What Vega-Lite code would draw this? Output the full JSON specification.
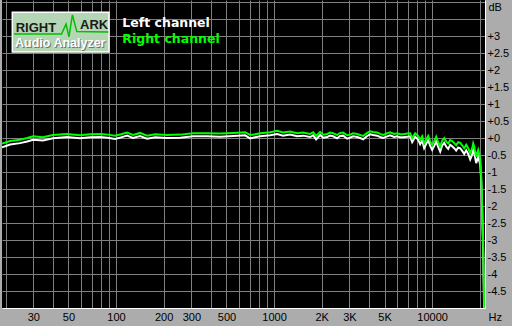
{
  "$schema": "https://vega.github.io/schema/vega-lite/v6.json",
  "width": 483,
  "height": 308,
  "autosize": {"type": "none"},
  "padding": {"left": 2, "top": 0, "right": 27, "bottom": 18},
  "background": "#acacac",
  "view": {"fill": "#000000", "stroke": null},
  "config": {"font": "Liberation Sans"},
  "datasets": {
    "curves": [
      {"f": 19, "R": -0.16, "L": -0.27},
      {"f": 21.4, "R": -0.09, "L": -0.19},
      {"f": 24.7, "R": -0.05, "L": -0.15},
      {"f": 27.4, "R": 0.0, "L": -0.1},
      {"f": 29.9, "R": 0.05, "L": -0.05},
      {"f": 34.5, "R": 0.02, "L": -0.07},
      {"f": 39.9, "R": 0.09, "L": -0.01},
      {"f": 49, "R": 0.12, "L": 0.03},
      {"f": 59.2, "R": 0.08, "L": -0.01},
      {"f": 68.5, "R": 0.11, "L": 0.02},
      {"f": 79.3, "R": 0.12, "L": 0.03},
      {"f": 89, "R": 0.1, "L": 0.01},
      {"f": 98.6, "R": 0.07, "L": -0.03},
      {"f": 107.6, "R": 0.11, "L": 0.02},
      {"f": 117.5, "R": 0.16, "L": 0.07},
      {"f": 128, "R": 0.09, "L": 0.0},
      {"f": 142, "R": 0.15, "L": 0.06},
      {"f": 157, "R": 0.07, "L": -0.02},
      {"f": 177, "R": 0.11, "L": 0.02},
      {"f": 210, "R": 0.09, "L": 0.0},
      {"f": 254, "R": 0.1, "L": 0.01},
      {"f": 307, "R": 0.14, "L": 0.05},
      {"f": 377, "R": 0.14, "L": 0.05},
      {"f": 456, "R": 0.13, "L": 0.04},
      {"f": 550, "R": 0.15, "L": 0.06},
      {"f": 656, "R": 0.17, "L": 0.08},
      {"f": 705, "R": 0.09, "L": -0.01},
      {"f": 759, "R": 0.11, "L": 0.02},
      {"f": 816, "R": 0.14, "L": 0.05},
      {"f": 944, "R": 0.17, "L": 0.08},
      {"f": 1046, "R": 0.21, "L": 0.12},
      {"f": 1140, "R": 0.16, "L": 0.07},
      {"f": 1263, "R": 0.19, "L": 0.1},
      {"f": 1399, "R": 0.14, "L": 0.05},
      {"f": 1527, "R": 0.16, "L": 0.07},
      {"f": 1691, "R": 0.12, "L": 0.03},
      {"f": 1767, "R": 0.17, "L": 0.08},
      {"f": 1845, "R": 0.06, "L": -0.04},
      {"f": 1956, "R": 0.18, "L": 0.09},
      {"f": 2044, "R": 0.1, "L": 0.01},
      {"f": 2166, "R": 0.12, "L": 0.03},
      {"f": 2263, "R": 0.16, "L": 0.07},
      {"f": 2364, "R": 0.14, "L": 0.05},
      {"f": 2506, "R": 0.09, "L": -0.01},
      {"f": 2618, "R": 0.15, "L": 0.06},
      {"f": 2735, "R": 0.16, "L": 0.07},
      {"f": 2900, "R": 0.08, "L": -0.02},
      {"f": 3029, "R": 0.1, "L": 0.01},
      {"f": 3164, "R": 0.14, "L": 0.05},
      {"f": 3354, "R": 0.12, "L": 0.03},
      {"f": 3504, "R": 0.09, "L": 0.0},
      {"f": 3661, "R": 0.06, "L": -0.04},
      {"f": 3880, "R": 0.15, "L": 0.06},
      {"f": 4055, "R": 0.2, "L": 0.11},
      {"f": 4235, "R": 0.18, "L": 0.09},
      {"f": 4490, "R": 0.16, "L": 0.07},
      {"f": 4691, "R": 0.12, "L": 0.03},
      {"f": 4899, "R": 0.09, "L": 0.0},
      {"f": 5193, "R": 0.14, "L": 0.05},
      {"f": 5425, "R": 0.17, "L": 0.08},
      {"f": 5751, "R": 0.12, "L": 0.03},
      {"f": 6008, "R": 0.14, "L": 0.05},
      {"f": 6278, "R": 0.11, "L": 0.02},
      {"f": 6557, "R": 0.11, "L": 0.02},
      {"f": 6952, "R": 0.13, "L": 0.04},
      {"f": 7262, "R": 0.14, "L": 0.05},
      {"f": 7476, "R": 0.0, "L": -0.12},
      {"f": 7811, "R": 0.14, "L": 0.04},
      {"f": 8160, "R": 0.06, "L": -0.05},
      {"f": 8401, "R": -0.05, "L": -0.18},
      {"f": 8647, "R": 0.05, "L": -0.07},
      {"f": 8905, "R": -0.16, "L": -0.3},
      {"f": 9168, "R": -0.05, "L": -0.18},
      {"f": 9441, "R": 0.06, "L": -0.06},
      {"f": 9720, "R": -0.1, "L": -0.23},
      {"f": 10005, "R": -0.21, "L": -0.35},
      {"f": 10304, "R": -0.1, "L": -0.24},
      {"f": 10607, "R": 0.04, "L": -0.1},
      {"f": 10921, "R": -0.12, "L": -0.26},
      {"f": 11244, "R": -0.25, "L": -0.4},
      {"f": 11578, "R": -0.08, "L": -0.22},
      {"f": 11922, "R": 0.0, "L": -0.14},
      {"f": 12274, "R": -0.1, "L": -0.25},
      {"f": 12633, "R": -0.16, "L": -0.32},
      {"f": 13010, "R": -0.06, "L": -0.2},
      {"f": 13391, "R": -0.09, "L": -0.24},
      {"f": 13790, "R": -0.15, "L": -0.3},
      {"f": 14193, "R": -0.21, "L": -0.37},
      {"f": 14617, "R": -0.12, "L": -0.28},
      {"f": 15048, "R": -0.14, "L": -0.3},
      {"f": 15496, "R": -0.22, "L": -0.38},
      {"f": 15954, "R": -0.3, "L": -0.47},
      {"f": 16426, "R": -0.2, "L": -0.36},
      {"f": 16910, "R": -0.3, "L": -0.47},
      {"f": 17408, "R": -0.45, "L": -0.63},
      {"f": 17925, "R": -0.3, "L": -0.48},
      {"f": 18187, "R": -0.16, "L": -0.34},
      {"f": 18453, "R": -0.25, "L": -0.43},
      {"f": 19000, "R": -0.55, "L": -0.74},
      {"f": 19562, "R": -0.35, "L": -0.55},
      {"f": 20140, "R": -0.6, "L": -0.78},
      {"f": 20436, "R": -1.1, "L": -1.25},
      {"f": 20737, "R": -2.0, "L": -2.2},
      {"f": 21041, "R": -3.2, "L": -3.4},
      {"f": 21348, "R": -5.0, "L": -5.2},
      {"f": 21500, "R": -6.0, "L": -6.2}
    ],
    "legendText": [
      {"f": 109.7, "v": 3.256, "label": "Left channel"},
      {"f": 109.7, "v": 2.803, "label": "Right channel"}
    ],
    "logoBox": [
      {"f": 22.08, "f2": 90.3, "v": 3.697, "v2": 2.529}
    ],
    "logoLine": [
      {"i": 1, "f": 22.6, "v": 3.06},
      {"i": 2, "f": 45.2, "v": 3.06},
      {"i": 3, "f": 48.3, "v": 3.35},
      {"i": 4, "f": 50.4, "v": 2.98},
      {"i": 5, "f": 53.0, "v": 3.62},
      {"i": 6, "f": 56.5, "v": 3.13},
      {"i": 7, "f": 89.5, "v": 3.12}
    ],
    "logoDark": [
      {"f": 23.2, "v": 3.126, "label": "RIGHT"},
      {"f": 59.2, "v": 3.197, "label": "ARK"}
    ],
    "logoLight": [
      {"f": 22.95, "v": 2.685, "label": "Audio Analyzer"}
    ]
  },
  "encoding": {
    "x": {
      "field": "f",
      "type": "quantitative",
      "scale": {"type": "log", "domain": [19, 21600], "nice": false, "zero": false},
      "axis": {
        "values": [20, 30, 40, 50, 60, 70, 80, 90, 100, 200, 300, 400, 500, 600, 700, 800, 900, 1000, 2000, 3000, 4000, 5000, 6000, 7000, 8000, 9000, 10000, 20000],
        "labelExpr": "indexof([30, 50, 100, 200, 300, 500, 1000, 10000], datum.value) >= 0 ? '' + datum.value : datum.value == 2000 ? '2K' : datum.value == 3000 ? '3K' : datum.value == 5000 ? '5K' : ''",
        "grid": true,
        "gridColor": "#808080",
        "gridOpacity": 1,
        "gridWidth": 1,
        "ticks": false,
        "domain": true,
        "domainColor": "#ffffff",
        "domainWidth": 1,
        "labelColor": "#000000",
        "labelFont": "Liberation Sans",
        "labelFontSize": 11,
        "labelPadding": 3,
        "labelFlush": false,
        "labelOverlap": false,
        "title": "Hz",
        "titleX": 486,
        "titleY": 9,
        "titleAlign": "left",
        "titleBaseline": "middle",
        "titleFont": "Liberation Sans",
        "titleFontSize": 11,
        "titleFontWeight": "normal",
        "titleColor": "#000000"
      }
    },
    "y": {
      "field": "v",
      "type": "quantitative",
      "scale": {"domain": [-5, 4.06], "nice": false, "zero": false},
      "axis": {
        "orient": "right",
        "values": [-5, -4.5, -4, -3.5, -3, -2.5, -2, -1.5, -1, -0.5, 0, 0.5, 1, 1.5, 2, 2.5, 3, 3.5, 4],
        "labelExpr": "datum.value <= -5 || datum.value >= 3.5 ? '' : (datum.value >= 0 ? '+' : '') + datum.value",
        "grid": true,
        "gridColor": "#808080",
        "gridOpacity": 1,
        "gridWidth": 1,
        "ticks": false,
        "domain": true,
        "domainColor": "#ffffff",
        "domainWidth": 1,
        "labelColor": "#000000",
        "labelFont": "Liberation Sans",
        "labelFontSize": 11,
        "labelPadding": 2,
        "labelAlign": "left",
        "labelBaseline": "middle",
        "labelOverlap": false,
        "labelFlush": false,
        "title": "dB",
        "titleAngle": 0,
        "titleX": 3,
        "titleY": 7,
        "titleAlign": "left",
        "titleBaseline": "middle",
        "titleFont": "Liberation Sans",
        "titleFontSize": 11,
        "titleFontWeight": "normal",
        "titleColor": "#000000"
      }
    }
  },
  "layer": [
    {
      "data": {"name": "logoBox"},
      "mark": {"type": "rect", "fill": "#b4d6b4", "stroke": "#ffffff", "strokeWidth": 1.5},
      "encoding": {
        "x2": {"field": "f2"},
        "y2": {"field": "v2"}
      }
    },
    {
      "data": {"name": "logoLine"},
      "mark": {"type": "line", "color": "#00c000", "strokeWidth": 1.5},
      "encoding": {"order": {"field": "i", "type": "quantitative"}}
    },
    {
      "data": {"name": "logoDark"},
      "mark": {"type": "text", "align": "left", "baseline": "alphabetic", "font": "Liberation Sans", "fontWeight": "bold", "fontSize": 13, "color": "#1a1a1a"},
      "encoding": {"text": {"field": "label"}}
    },
    {
      "data": {"name": "logoLight"},
      "mark": {"type": "text", "align": "left", "baseline": "alphabetic", "font": "Liberation Sans", "fontWeight": "bold", "fontSize": 12.5, "color": "#707070", "dx": 1, "dy": 1},
      "encoding": {"text": {"field": "label"}}
    },
    {
      "data": {"name": "logoLight"},
      "mark": {"type": "text", "align": "left", "baseline": "alphabetic", "font": "Liberation Sans", "fontWeight": "bold", "fontSize": 12.5, "color": "#ffffff"},
      "encoding": {"text": {"field": "label"}}
    },
    {
      "data": {"name": "legendText"},
      "mark": {"type": "text", "align": "left", "baseline": "alphabetic", "font": "DejaVu Sans", "fontWeight": "bold", "fontSize": 12.5},
      "encoding": {
        "text": {"field": "label"},
        "color": {"field": "label", "type": "nominal", "scale": {"domain": ["Left channel", "Right channel"], "range": ["#ffffff", "#00ff00"]}, "legend": null}
      }
    },
    {
      "data": {"name": "curves"},
      "transform": [{"fold": ["L"], "as": ["ch", "v"]}],
      "mark": {"type": "line", "color": "#ffffff", "strokeWidth": 2, "clip": true, "interpolate": "linear"},
      "encoding": {}
    },
    {
      "data": {"name": "curves"},
      "transform": [{"fold": ["R"], "as": ["ch", "v"]}],
      "mark": {"type": "line", "color": "#00ff00", "strokeWidth": 2, "clip": true, "interpolate": "linear"},
      "encoding": {}
    }
  ]
}
